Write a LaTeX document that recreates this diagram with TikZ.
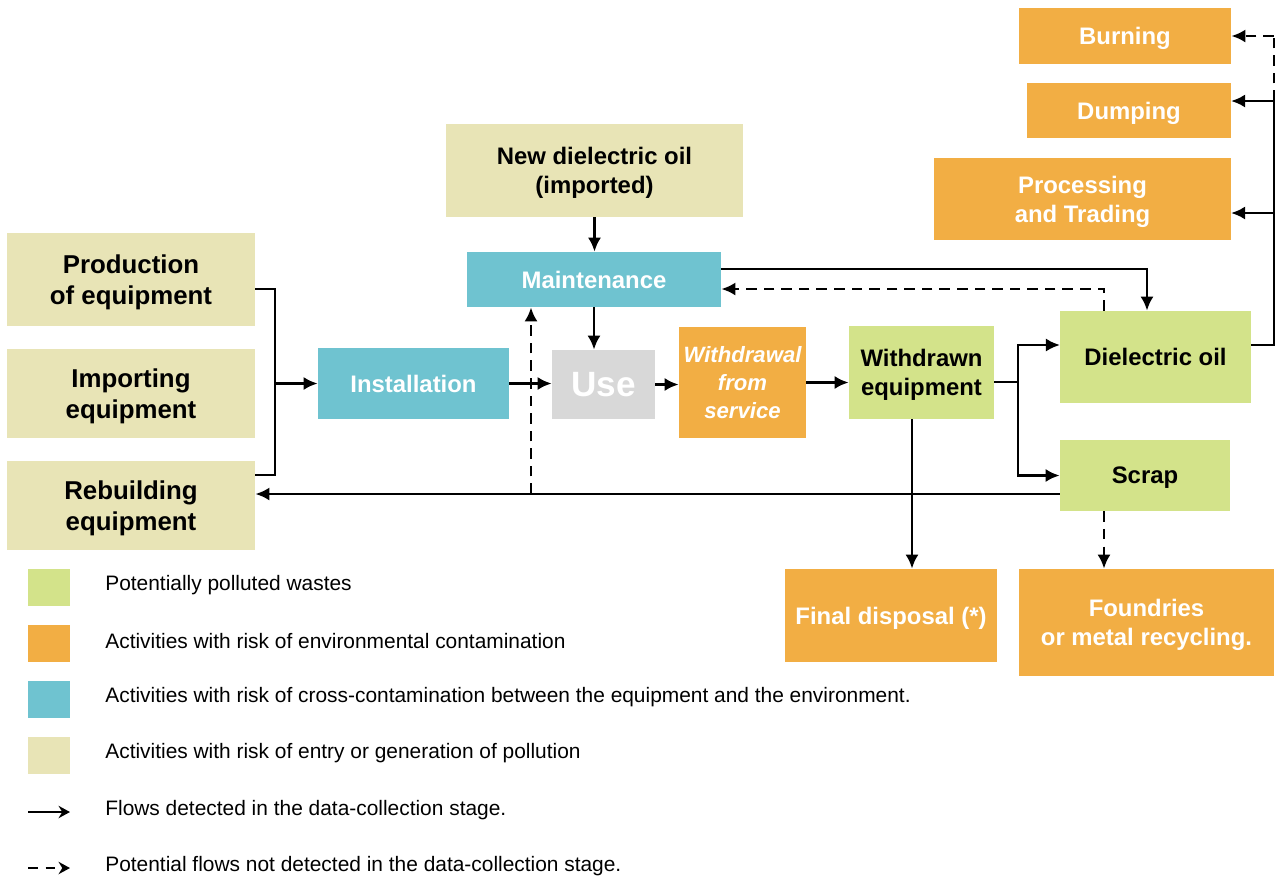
\documentclass[tikz,border=0pt]{standalone}
\usepackage{fontspec}
\setmainfont{Liberation Sans}
\usetikzlibrary{arrows.meta}

\definecolor{cgreen}{RGB}{211,227,138}
\definecolor{corange}{RGB}{242,174,68}
\definecolor{cblue}{RGB}{111,195,208}
\definecolor{cbeige}{RGB}{232,228,182}
\definecolor{cgrey}{RGB}{216,216,216}

\begin{document}
\begin{tikzpicture}[x=0.02cm, y=-0.02cm,
  wh/.style 2 args={minimum width=#1*0.02cm, minimum height=#2*0.02cm},
  box/.style={inner sep=0pt, align=center, text depth=0pt, font=\fontsize{13.6}{16.4}\selectfont\bfseries},
  greenbox/.style={box, fill=cgreen, text=black},
  orangebox/.style={box, fill=corange, text=white},
  bluebox/.style={box, fill=cblue, text=white},
  beigebox/.style={box, fill=cbeige, text=black, font=\fontsize{14.7}{18}\selectfont\bfseries},
  greybox/.style={box, fill=cgrey, text=white},
  flow/.style={line width=1.6pt},
  arr/.style={flow, -{Latex[length=8pt,width=7.5pt]}},
  darr/.style={arr, dash pattern=on 6pt off 4pt},
  dflow/.style={flow, dash pattern=on 6pt off 4pt},
  legtext/.style={anchor=west, inner sep=0pt, font=\fontsize{11.9}{14}\selectfont},
  swatch/.style={inner sep=0pt, minimum width=42*0.02cm, minimum height=37*0.02cm}
]
\useasboundingbox (0,0) rectangle (1275,877);

% --- boxes ---
\node[orangebox, wh={212}{56}] (burn) at (1125,36) {Burning};
\node[orangebox, wh={204}{55}] (dump) at (1129,110.5) {Dumping};
\node[orangebox, wh={297}{82}] (proc) at (1082.5,199) {Processing\\and Trading};
\node[beigebox, wh={297}{93}, font=\fontsize{13.6}{16.4}\selectfont\bfseries] (newoil) at (594.5,170.5) {New dielectric oil\\(imported)};
\node[bluebox, wh={254}{55}] (maint) at (594,279.5) {Maintenance};
\node[beigebox, wh={248}{93}] (prod) at (131,279.5) {Production\\of equipment};
\node[beigebox, wh={248}{89}] (imp) at (131,393.5) {Importing\\equipment};
\node[beigebox, wh={248}{89}] (rebuild) at (131,505.5) {Rebuilding\\equipment};
\node[bluebox, wh={191}{71}] (inst) at (413.5,383.5) {Installation};
\node[greybox, wh={103}{69}, font=\fontsize{20}{24}\selectfont\bfseries] (use) at (603.5,384.5) {Use};
\node[orangebox, wh={127}{111}, font=\fontsize{12.6}{16.2}\selectfont\bfseries\itshape] (wd) at (742.5,382.5) {Withdrawal\\from\\service};
\node[greenbox, wh={145}{93}] (wn) at (921.5,372.5) {Withdrawn\\equipment};
\node[greenbox, wh={191}{92}] (oil) at (1155.5,357) {Dielectric oil};
\node[greenbox, wh={170}{71}] (scrap) at (1145,475.5) {Scrap};
\node[orangebox, wh={212}{93}] (final) at (891,615.5) {Final disposal (*)};
\node[orangebox, wh={255}{107}] (found) at (1146.5,622.5) {Foundries\\or metal recycling.};

% --- routing points ---
\coordinate (busTop) at (275,289);
\coordinate (busBot) at (275,475);
\coordinate (fork) at (1018,382);
\coordinate (oilIn) at (1060,345);
\coordinate (dropF) at (912,0);
\coordinate (retY) at (0,494);
\coordinate (dashUp) at (531,494);
\coordinate (mo) at (1147,269);
\coordinate (om) at (1104,289);
\coordinate (rb) at (1274,345);
\coordinate (dumpIn) at (1231,101);
\coordinate (procIn) at (1231,213);
\coordinate (scrapX) at (1104,0);

% --- equipment inputs ---
\draw[flow] (prod.east |- busTop) -- (busTop) -- (busBot) -- (rebuild.east |- busBot);
\draw[arr] (inst.west -| busTop) -- (inst.west);

% --- main chain ---
\draw[arr] (inst.east) -- (inst.east -| use.west);
\draw[arr] (use.east) -- (use.east -| wd.west);
\draw[arr] (wd.east) -- (wd.east -| wn.west);
\draw[flow] (wn.east |- fork) -- (fork);
\draw[arr] (fork) |- (oilIn);
\draw[arr] (fork) |- (scrap.west);
\draw[arr] (wn.south -| dropF) -- (final.north -| dropF);

% --- return to rebuilding and to maintenance ---
\draw[arr] (scrap.west |- retY) -- (rebuild.east |- retY);
\draw[darr] (dashUp) -- (dashUp |- maint.south);

% --- maintenance ---
\draw[arr] (newoil.south) -- (newoil.south |- maint.north);
\draw[arr] (maint.south) -- (maint.south |- use.north);
\draw[arr] (maint.east |- mo) -| (oil.north -| mo);
\draw[darr] (oil.north -| om) |- (maint.east |- om);

% --- dielectric oil destinations ---
\draw[flow] (oil.east |- rb) -- (rb) -- (rb |- dumpIn);
\draw[arr] (rb |- procIn) -- (procIn);
\draw[arr] (rb |- dumpIn) -- (dumpIn);
\draw[dflow] (rb |- dumpIn) -- (rb |- burn.east);
\draw[darr] (rb |- burn.east) -- (burn.east);

% --- scrap to foundries ---
\draw[darr] (scrap.south -| scrapX) -- (found.north -| scrapX);

% --- legend ---
\node[swatch, fill=cgreen] (s1) at (49,587.5) {};
\node[swatch, fill=corange] (s2) at (49,643.5) {};
\node[swatch, fill=cblue] (s3) at (49,699.5) {};
\node[swatch, fill=cbeige] (s4) at (49,755.5) {};
\node[legtext] (l1) at (105,585) {Potentially polluted wastes};
\node[legtext] (l2) at (105,641) {Activities with risk of environmental contamination};
\node[legtext] (l3) at (105,697) {Activities with risk of cross-contamination between the equipment and the environment.};
\node[legtext] (l4) at (105,753) {Activities with risk of entry or generation of pollution};
\coordinate (a1s) at (28,812);
\coordinate (a1e) at (70,812);
\coordinate (a2s) at (28,868);
\coordinate (a2e) at (70,868);
\draw[flow, -{Stealth[length=6.5pt,width=7pt]}] (a1s) -- (a1e);
\draw[flow, dash pattern=on 5.5pt off 4.5pt, -{Stealth[length=6.5pt,width=7pt]}] (a2s) -- (a2e);
\node[legtext] (l5) at (105,810) {Flows detected in the data-collection stage.};
\node[legtext] (l6) at (105,866) {Potential flows not detected in the data-collection stage.};
\end{tikzpicture}
\end{document}
